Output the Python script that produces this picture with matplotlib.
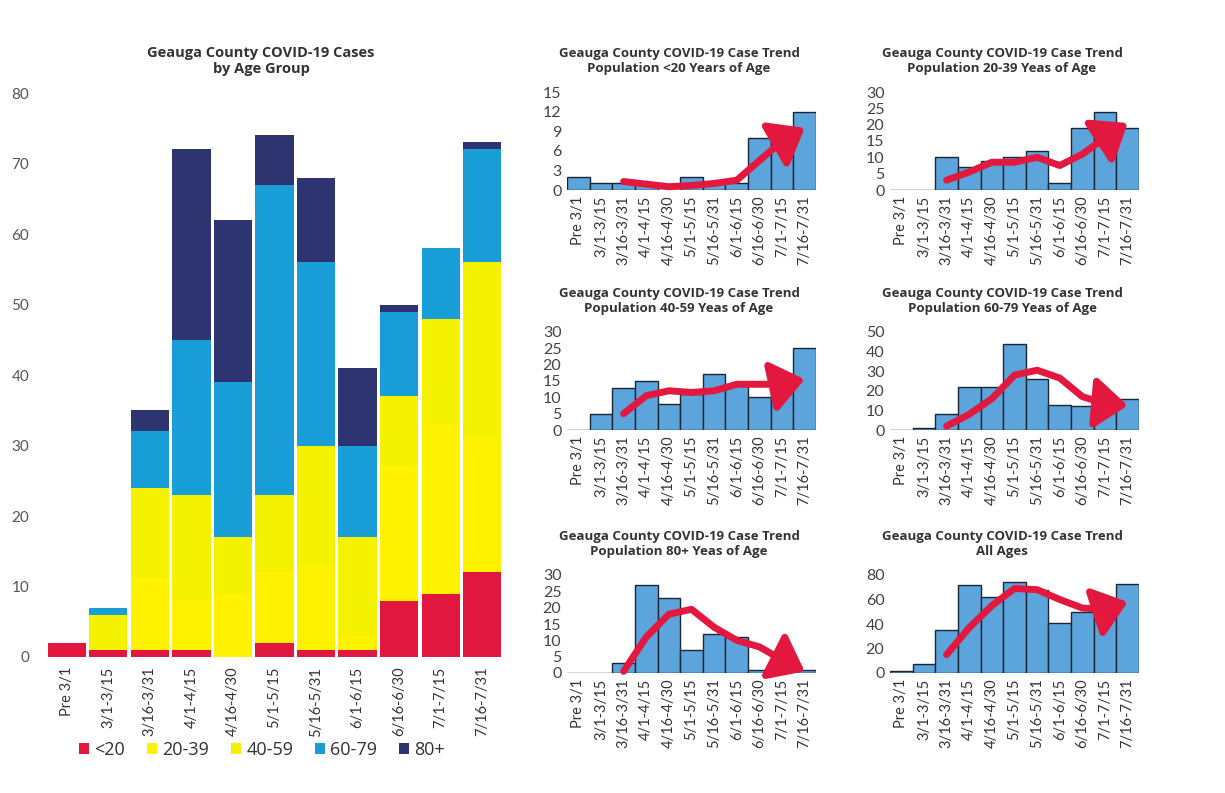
import matplotlib
matplotlib.use("Agg")
import matplotlib.pyplot as plt
import numpy as np

plt.rcParams['font.family'] = ['Lato', 'DejaVu Sans']

# two-week reporting periods
periods = ['Pre 3/1', '3/1-3/15', '3/16-3/31', '4/1-4/15', '4/16-4/30', '5/1-5/15',
           '5/16-5/31', '6/1-6/15', '6/16-6/30', '7/1-7/15', '7/16-7/31']

# cases per age group
under20 = [2, 1, 1, 1, 0, 2, 1, 1, 8, 9, 12]
age20_39 = [0, 0, 10, 7, 9, 10, 12, 2, 19, 24, 19]
age40_59 = [0, 5, 13, 15, 8, 11, 17, 14, 10, 15, 25]
age60_79 = [0, 1, 8, 22, 22, 44, 26, 13, 12, 10, 16]
age80_up = [0, 0, 3, 27, 23, 7, 12, 11, 1, 0, 1]
all_ages = list(np.sum([under20, age20_39, age40_59, age60_79, age80_up], axis=0))

# hand drawn trend arrows, values from 3/16-3/31 to 7/16-7/31
trend_start = 2
trend_u20 = [1.3, 0.9, 0.5, 0.7, 1.0, 1.5, 4.5, 7.5, 9.5]
trend_20_39 = [3, 5.5, 8.5, 8.5, 10, 7.5, 11, 16, 20.5]
trend_40_59 = [5, 10.5, 12, 11.5, 12, 14, 14, 14, 15.5]
trend_60_79 = [2, 8, 16, 28, 30.5, 26.5, 17, 13.5, 12.5]
trend_80 = [0.5, 11, 18, 19.5, 14, 10, 8, 4, 0.5]
trend_all = [15, 37, 55, 69, 68, 60, 53, 52, 58]

group_labels = ['<20', '20-39', '40-59', '60-79', '80+']
group_colors = ['#E2173F', '#FFF200', '#F5F200', '#1A9ED8', '#2E3470']

W, H = 1225, 793
fig = plt.figure(figsize=(W / 100, H / 100), dpi=100)


def px_axes(x0, x1, ytop, ybot):
    return fig.add_axes([x0 / W, 1 - ybot / H, (x1 - x0) / W, (ybot - ytop) / H])


# ---- main stacked chart ----
ax = px_axes(46, 503, 93, 657)
x = np.arange(len(periods))
bottom = np.zeros(len(periods))
handles = []
for vals, lab, col in zip([under20, age20_39, age40_59, age60_79, age80_up], group_labels, group_colors):
    b = ax.bar(x, vals, bottom=bottom, width=0.92, color=col, label=lab)
    handles.append(b)
    bottom += np.array(vals)
ax.set_xlim(-0.5, len(periods) - 0.5)
ax.set_ylim(0, 80)
ax.set_yticks(range(0, 81, 10))
ax.set_xticks(x)
ax.set_xticklabels(periods, rotation=90, fontsize=10.5, color='#333333')
ax.tick_params(axis='y', labelsize=11, labelcolor='#555555', length=0, pad=12)
ax.tick_params(axis='x', length=0, pad=7)
for s in ax.spines.values():
    s.set_visible(False)
ax.legend(handles=handles, loc='center', bbox_to_anchor=(0.473, -0.165), ncol=5, frameon=False,
          handlelength=0.55, handleheight=0.55, handletextpad=0.3, columnspacing=1.2,
          labelcolor='#333333', prop={'family': 'Open Sans', 'size': 13})
fig.text(261 / W, 1 - 61 / H, 'Geauga County COVID-19 Cases\nby Age Group', ha='center', va='center',
         fontsize=10.5, fontweight='bold', family='Open Sans', color='#333333', linespacing=1.2)

# ---- small trend panels ----
panels = [
    (under20, trend_u20, 15, 3, 'Population <20 Years of Age', (567, 816, 92, 190)),
    (age20_39, trend_20_39, 30, 5, 'Population 20-39 Yeas of Age', (890, 1139, 92, 190)),
    (age40_59, trend_40_59, 30, 5, 'Population 40-59 Yeas of Age', (567, 816, 332, 430)),
    (age60_79, trend_60_79, 50, 10, 'Population 60-79 Yeas of Age', (890, 1139, 332, 430)),
    (age80_up, trend_80, 30, 5, 'Population 80+ Yeas of Age', (567, 816, 575, 673)),
    (all_ages, trend_all, 80, 20, 'All Ages', (890, 1139, 575, 673)),
]
red = '#E3183F'
for vals, trend, ymax, step, sub, (x0, x1, yt, yb) in panels:
    a = px_axes(x0, x1, yt, yb)
    a.bar(x, vals, width=1.0, color='#5BA5DC', edgecolor='#1B2533', linewidth=1)
    a.set_xlim(-0.5, len(periods) - 0.5)
    a.set_ylim(0, ymax)
    a.set_yticks(range(0, ymax + 1, step))
    a.set_xticks(x)
    a.set_xticklabels(periods, rotation=90, fontsize=10.5, color='#333333')
    a.tick_params(axis='y', labelsize=11.5, labelcolor='#444444', length=0, pad=4)
    a.tick_params(axis='x', length=0, pad=4)
    for s in a.spines.values():
        s.set_visible(False)
    tx = np.arange(trend_start, trend_start + len(trend))
    a.plot(tx[:-1], trend[:-1], color=red, lw=5, solid_capstyle='round', solid_joinstyle='round',
           clip_on=False, zorder=3)
    a.annotate('', xy=(tx[-1], trend[-1]), xytext=(tx[-2], trend[-2]),
               arrowprops=dict(arrowstyle='-|>,head_length=0.9,head_width=0.7', mutation_scale=22,
                               color=red, lw=5, shrinkA=0, shrinkB=0),
               annotation_clip=False, zorder=4)
    cx = x0 + 0.45 * (x1 - x0)
    fig.text(cx / W, 1 - (yt - 31) / H, 'Geauga County COVID-19 Case Trend\n' + sub, ha='center',
             va='center', fontsize=9.5, fontweight='bold', family='Open Sans', color='#333333',
             linespacing=1.2)

fig.savefig('out.png', dpi=100)
